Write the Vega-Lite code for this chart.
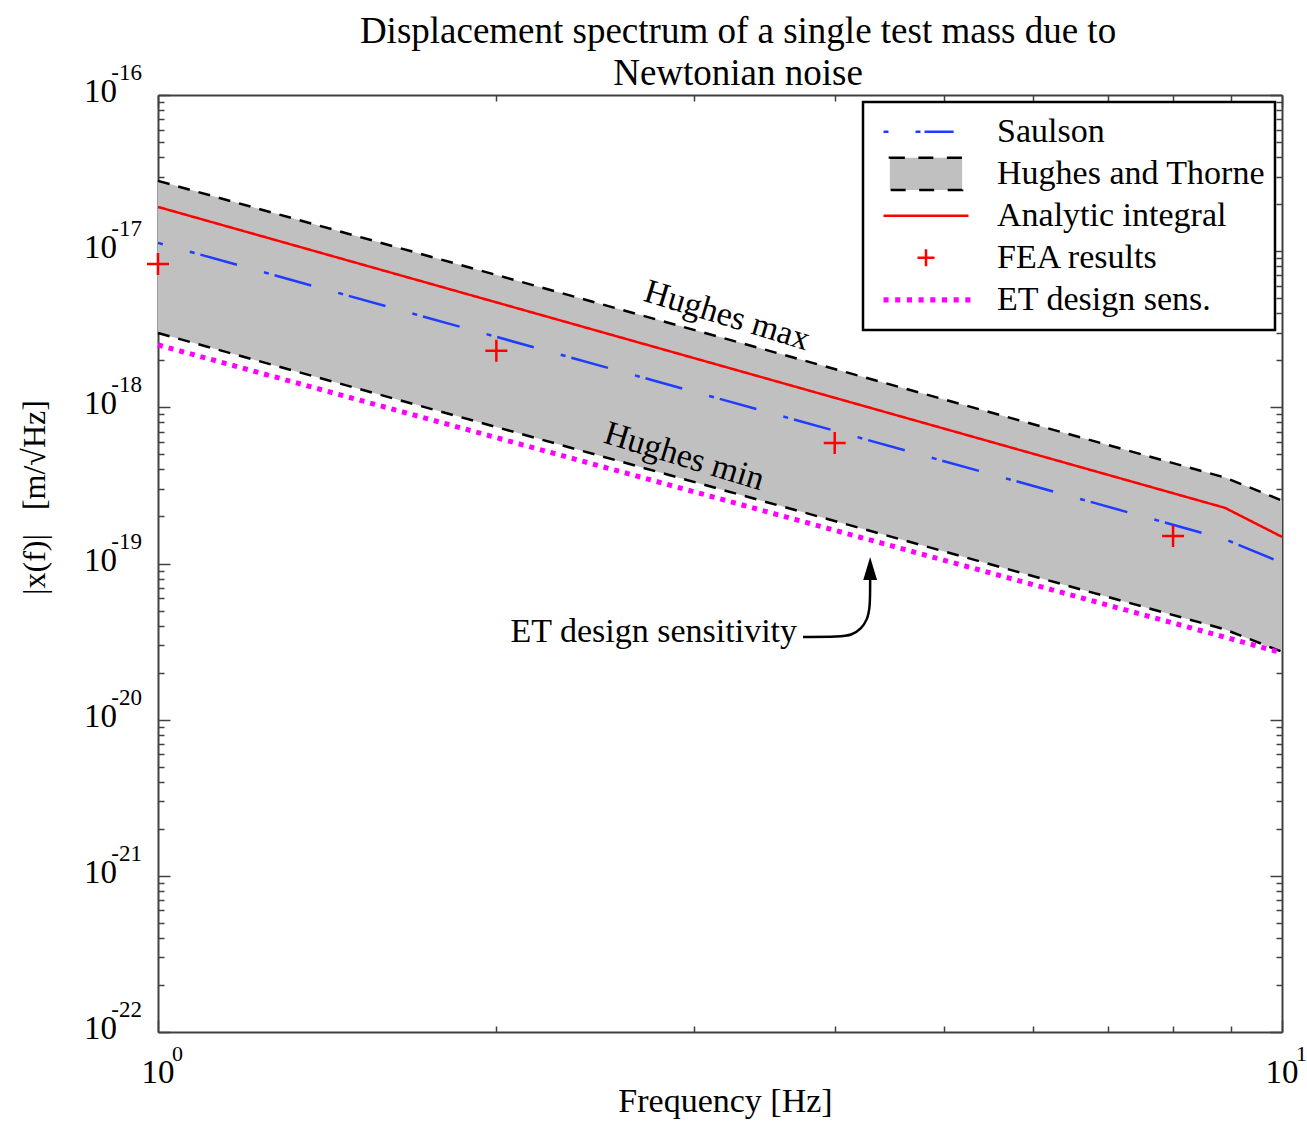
{
  "$schema": "https://vega.github.io/schema/vega-lite/v6.json",
  "autosize": {"type": "none"},
  "padding": {"left": 158, "top": 95, "right": 25, "bottom": 93},
  "width": 1124,
  "height": 937,
  "background": "white",
  "title": {
    "text": ["Displacement spectrum of a single test mass due to", "Newtonian noise"],
    "font": "Liberation Serif",
    "fontSize": 37,
    "fontWeight": "normal",
    "color": "black",
    "lineHeight": 42,
    "baseline": "alphabetic",
    "offset": -60,
    "dx": 18,
    "anchor": "middle",
    "frame": "group"
  },
  "datasets": {
    "hughes": [
      {"series": "Hughes and Thorne", "f": 1, "lo": 2.99e-18, "hi": 2.82e-17},
      {"series": "Hughes and Thorne", "f": 8.9, "lo": 3.78e-20, "hi": 3.55e-19},
      {"series": "Hughes and Thorne", "f": 10, "lo": 2.72e-20, "hi": 2.53e-19}
    ],
    "saulson": [
      {"series": "Saulson", "f": 1, "v": 1.13e-17},
      {"series": "Saulson", "f": 8.9, "v": 1.43e-19},
      {"series": "Saulson", "f": 10, "v": 1.01e-19}
    ],
    "analytic": [
      {"series": "Analytic integral", "f": 1, "v": 1.92e-17},
      {"series": "Analytic integral", "f": 8.9, "v": 2.27e-19},
      {"series": "Analytic integral", "f": 10, "v": 1.48e-19}
    ],
    "fea": [
      {"series": "FEA results", "f": 1, "v": 8.28e-18},
      {"series": "FEA results", "f": 2, "v": 2.30e-18},
      {"series": "FEA results", "f": 4, "v": 5.92e-19},
      {"series": "FEA results", "f": 8, "v": 1.50e-19}
    ],
    "et": [
      {"series": "ET design sens.", "f": 1, "v": 2.51e-18},
      {"series": "ET design sens.", "f": 10, "v": 2.68e-20}
    ],
    "bandLabels": [
      {"f": 3.208, "v": 3.85e-18, "label": "Hughes max"},
      {"f": 2.938, "v": 4.82e-19, "label": "Hughes min"}
    ],
    "etLabel": [
      {"f": 3.703, "v": 3.648e-20, "label": "ET design sensitivity"}
    ],
    "arrow": [
      {"i": 0, "f": 3.7487, "v": 3.389e-20},
      {"i": 1, "f": 4.0446, "v": 3.389e-20},
      {"i": 2, "f": 4.1453, "v": 3.490e-20},
      {"i": 3, "f": 4.2225, "v": 3.814e-20},
      {"i": 4, "f": 4.2747, "v": 4.355e-20},
      {"i": 5, "f": 4.3011, "v": 5.197e-20},
      {"i": 6, "f": 4.3011, "v": 8.087e-20}
    ],
    "arrowHead": [
      {"f": 4.3011, "v": 9.30e-20}
    ],
    "yTicks": [
      {"v": 1e-16, "e": "-16"},
      {"v": 1e-17, "e": "-17"},
      {"v": 1e-18, "e": "-18"},
      {"v": 1e-19, "e": "-19"},
      {"v": 1e-20, "e": "-20"},
      {"v": 1e-21, "e": "-21"},
      {"v": 1e-22, "e": "-22"}
    ],
    "xTicks": [
      {"f": 1, "e": "0"},
      {"f": 10, "e": "1"}
    ]
  },
  "layer": [
    {
      "data": {"name": "hughes"},
      "mark": {"type": "area", "opacity": 1},
      "encoding": {
        "x": {
          "field": "f", "type": "quantitative",
          "scale": {"type": "log", "domain": [1, 10], "nice": false},
          "axis": {
            "orient": "bottom",
            "values": [1, 2, 3, 4, 5, 6, 7, 8, 9, 10],
            "tickSize": {"condition": {"test": "datum.value == 1 || datum.value == 10", "value": -12}, "value": -6},
            "title": "Frequency [Hz]",
            "titleX": 567,
            "titleY": 79,
            "titleAlign": "center",
            "titleBaseline": "alphabetic"
          }
        },
        "y": {
          "field": "hi", "type": "quantitative",
          "scale": {"type": "log", "domain": [1e-22, 1e-16], "nice": false},
          "axis": {
            "orient": "left",
            "values": [1e-22, 2e-22, 3e-22, 4e-22, 5e-22, 6e-22, 7e-22, 8e-22, 9e-22,
                       1e-21, 2e-21, 3e-21, 4e-21, 5e-21, 6e-21, 7e-21, 8e-21, 9e-21,
                       1e-20, 2e-20, 3e-20, 4e-20, 5e-20, 6e-20, 7e-20, 8e-20, 9e-20,
                       1e-19, 2e-19, 3e-19, 4e-19, 5e-19, 6e-19, 7e-19, 8e-19, 9e-19,
                       1e-18, 2e-18, 3e-18, 4e-18, 5e-18, 6e-18, 7e-18, 8e-18, 9e-18,
                       1e-17, 2e-17, 3e-17, 4e-17, 5e-17, 6e-17, 7e-17, 8e-17, 9e-17, 1e-16],
            "tickSize": {"condition": {"test": "abs(log(datum.value)/LN10 - round(log(datum.value)/LN10)) < 0.001", "value": -12}, "value": -6},
            "title": "|x(f)|\u00a0\u00a0\u00a0[m/√Hz]",
            "titleFontSize": 32,
            "titleAngle": 270,
            "titleX": -124,
            "titleY": 402,
            "titleAlign": "center",
            "titleBaseline": "middle"
          }
        },
        "y2": {"field": "lo"},
        "fill": {
          "field": "series", "type": "nominal",
          "scale": {
            "domain": ["Saulson", "Hughes and Thorne", "Analytic integral", "FEA results", "ET design sens."],
            "range": ["transparent", "#c0c0c0", "transparent", "transparent", "#ff00ff"]
          },
          "legend": {"title": null}
        }
      }
    },
    {
      "data": {"name": "hughes"},
      "mark": {"type": "line", "color": "black", "strokeWidth": 2.5, "strokeDash": [12, 9]},
      "encoding": {
        "x": {
          "field": "f", "type": "quantitative",
          "axis": {
            "orient": "top",
            "values": [1, 2, 3, 4, 5, 6, 7, 8, 9, 10],
            "tickSize": {"condition": {"test": "datum.value == 1 || datum.value == 10", "value": -12}, "value": -6},
            "title": null
          }
        },
        "y": {
          "field": "hi", "type": "quantitative",
          "axis": {
            "orient": "right",
            "values": [1e-22, 2e-22, 3e-22, 4e-22, 5e-22, 6e-22, 7e-22, 8e-22, 9e-22,
                       1e-21, 2e-21, 3e-21, 4e-21, 5e-21, 6e-21, 7e-21, 8e-21, 9e-21,
                       1e-20, 2e-20, 3e-20, 4e-20, 5e-20, 6e-20, 7e-20, 8e-20, 9e-20,
                       1e-19, 2e-19, 3e-19, 4e-19, 5e-19, 6e-19, 7e-19, 8e-19, 9e-19,
                       1e-18, 2e-18, 3e-18, 4e-18, 5e-18, 6e-18, 7e-18, 8e-18, 9e-18,
                       1e-17, 2e-17, 3e-17, 4e-17, 5e-17, 6e-17, 7e-17, 8e-17, 9e-17, 1e-16],
            "tickSize": {"condition": {"test": "abs(log(datum.value)/LN10 - round(log(datum.value)/LN10)) < 0.001", "value": -12}, "value": -6},
            "title": null
          }
        }
      }
    },
    {
      "data": {"name": "hughes"},
      "mark": {"type": "line", "color": "black", "strokeWidth": 2.5, "strokeDash": [12, 9]},
      "encoding": {
        "x": {"field": "f", "type": "quantitative", "axis": null},
        "y": {"field": "lo", "type": "quantitative", "axis": null}
      }
    },
    {
      "data": {"name": "et"},
      "mark": {"type": "line", "color": "#ff00ff", "strokeWidth": 5, "strokeDash": [5, 6], "strokeCap": "butt"},
      "encoding": {
        "x": {"field": "f", "type": "quantitative", "axis": null},
        "y": {"field": "v", "type": "quantitative", "axis": null}
      }
    },
    {
      "data": {"name": "saulson"},
      "mark": {"type": "line", "strokeWidth": 2.5, "strokeDash": [38, 28, 5, 6], "strokeDashOffset": 33},
      "encoding": {
        "x": {"field": "f", "type": "quantitative", "axis": null},
        "y": {"field": "v", "type": "quantitative", "axis": null},
        "stroke": {
          "field": "series", "type": "nominal",
          "scale": {
            "domain": ["Saulson", "Hughes and Thorne", "Analytic integral", "FEA results", "ET design sens."],
            "range": ["#1f3cff", "black", "#ff0000", "#ff0000", "transparent"]
          },
          "legend": {"title": null}
        }
      }
    },
    {
      "data": {"name": "analytic"},
      "mark": {"type": "line", "strokeWidth": 2.5},
      "encoding": {
        "x": {"field": "f", "type": "quantitative", "axis": null},
        "y": {"field": "v", "type": "quantitative", "axis": null},
        "stroke": {"field": "series", "type": "nominal", "legend": {"title": null}},
        "strokeDash": {
          "field": "series", "type": "nominal",
          "scale": {
            "domain": ["Saulson", "Hughes and Thorne", "Analytic integral", "FEA results", "ET design sens."],
            "range": [[5, 27, 5, 4, 30, 10], [15, 13.5, 15, 13.5, 15, 32, 15, 13.5, 15, 13.5, 15, 32], [1, 0], [1, 0], [1, 0]]
          },
          "legend": {"title": null}
        }
      }
    },
    {
      "data": {"name": "fea"},
      "mark": {"type": "point", "filled": false, "size": 12100, "strokeWidth": 2.5, "opacity": 1},
      "encoding": {
        "x": {"field": "f", "type": "quantitative", "axis": null},
        "y": {"field": "v", "type": "quantitative", "axis": null},
        "stroke": {"field": "series", "type": "nominal", "legend": {"title": null}},
        "shape": {
          "field": "series", "type": "nominal",
          "scale": {
            "domain": ["Saulson", "Hughes and Thorne", "Analytic integral", "FEA results", "ET design sens."],
            "range": [
              "M-1,0H0.65",
              "M-0.85,-0.38H0.85V0.38H-0.85Z",
              "M-1,0H1",
              "M-0.2,0H0.2M0,-0.2V0.2",
              "M-1,-0.06h0.12v0.12h-0.12Z M-0.725,-0.06h0.12v0.12h-0.12Z M-0.45,-0.06h0.12v0.12h-0.12Z M-0.175,-0.06h0.12v0.12h-0.12Z M0.1,-0.06h0.12v0.12h-0.12Z M0.375,-0.06h0.12v0.12h-0.12Z M0.65,-0.06h0.12v0.12h-0.12Z M0.925,-0.06h0.12v0.12h-0.12Z"
            ]
          },
          "legend": {"title": null}
        }
      }
    },
    {
      "data": {"name": "bandLabels"},
      "mark": {"type": "text", "font": "Liberation Serif", "fontSize": 34, "color": "black", "angle": 17, "align": "center", "baseline": "middle"},
      "encoding": {
        "x": {"field": "f", "type": "quantitative", "axis": null},
        "y": {"field": "v", "type": "quantitative", "axis": null},
        "text": {"field": "label"}
      }
    },
    {
      "data": {"name": "etLabel"},
      "mark": {"type": "text", "font": "Liberation Serif", "fontSize": 34, "color": "black", "align": "right", "baseline": "middle"},
      "encoding": {
        "x": {"field": "f", "type": "quantitative", "axis": null},
        "y": {"field": "v", "type": "quantitative", "axis": null},
        "text": {"field": "label"}
      }
    },
    {
      "data": {"name": "arrow"},
      "mark": {"type": "line", "color": "black", "strokeWidth": 2.5, "interpolate": "basis"},
      "encoding": {
        "x": {"field": "f", "type": "quantitative", "axis": null},
        "y": {"field": "v", "type": "quantitative", "axis": null},
        "order": {"field": "i", "type": "quantitative"}
      }
    },
    {
      "data": {"name": "arrowHead"},
      "mark": {"type": "point", "shape": "M0,-1L0.6,1L-0.6,1Z", "filled": true, "color": "black", "size": 529, "opacity": 1},
      "encoding": {
        "x": {"field": "f", "type": "quantitative", "axis": null},
        "y": {"field": "v", "type": "quantitative", "axis": null}
      }
    },
    {
      "data": {"name": "yTicks"},
      "mark": {"type": "text", "font": "Liberation Serif", "fontSize": 33, "color": "black", "align": "right", "baseline": "middle", "dx": -41, "dy": -3},
      "encoding": {
        "x": {"datum": 1, "type": "quantitative", "axis": null},
        "y": {"field": "v", "type": "quantitative", "axis": null},
        "text": {"value": "10"}
      }
    },
    {
      "data": {"name": "yTicks"},
      "mark": {"type": "text", "font": "Liberation Serif", "fontSize": 23, "color": "black", "align": "right", "baseline": "middle", "dx": -16, "dy": -22},
      "encoding": {
        "x": {"datum": 1, "type": "quantitative", "axis": null},
        "y": {"field": "v", "type": "quantitative", "axis": null},
        "text": {"field": "e"}
      }
    },
    {
      "data": {"name": "xTicks"},
      "mark": {"type": "text", "font": "Liberation Serif", "fontSize": 33, "color": "black", "align": "center", "baseline": "middle", "dy": 41},
      "encoding": {
        "x": {"field": "f", "type": "quantitative", "axis": null},
        "y": {"datum": 1e-22, "type": "quantitative", "axis": null},
        "text": {"value": "10"}
      }
    },
    {
      "data": {"name": "xTicks"},
      "mark": {"type": "text", "font": "Liberation Serif", "fontSize": 22, "color": "black", "align": "left", "baseline": "middle", "dx": 14, "dy": 22},
      "encoding": {
        "x": {"field": "f", "type": "quantitative", "axis": null},
        "y": {"datum": 1e-22, "type": "quantitative", "axis": null},
        "text": {"field": "e"}
      }
    }
  ],
  "resolve": {"axis": {"x": "independent", "y": "independent"}},
  "config": {
    "view": {"stroke": null},
    "font": "Liberation Serif",
    "axis": {
      "domainColor": "#404040",
      "domainWidth": 2,
      "tickColor": "#404040",
      "tickWidth": 1.5,
      "labels": false,
      "grid": false,
      "titleFont": "Liberation Serif",
      "titleFontWeight": "normal",
      "titleColor": "black",
      "titleFontSize": 34
    },
    "legend": {
      "orient": "top-right",
      "offset": 7,
      "padding": 9,
      "fillColor": "white",
      "strokeColor": "black",
      "strokeWidth": 2.5,
      "labelFont": "Liberation Serif",
      "labelFontSize": 34,
      "labelColor": "black",
      "labelLimit": 500,
      "symbolSize": 7225,
      "symbolStrokeWidth": 2.5,
      "symbolOpacity": 1,
      "symbolOffset": 10,
      "labelOffset": 27,
      "clipHeight": 41.7,
      "rowPadding": 0
    }
  }
}
